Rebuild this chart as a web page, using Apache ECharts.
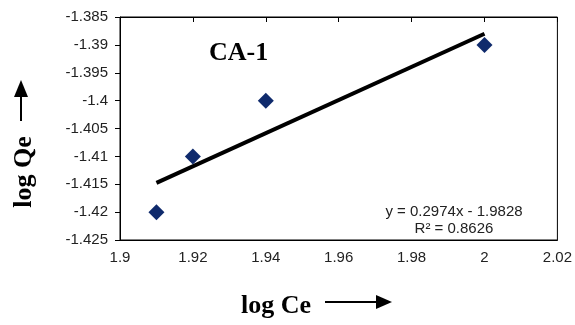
<!DOCTYPE html>
<html><head><meta charset="utf-8">
<script src="https://cdn.jsdelivr.net/npm/echarts@6/dist/echarts.min.js"></script>
<style>html,body{margin:0;padding:0;background:#fff}#c{width:575px;height:325px}</style>
</head><body><div id="c"></div>
<script>
const logCe = [1.91, 1.92, 1.94, 2.0];
const logQe = [-1.42, -1.41, -1.40, -1.39];
const slope = 0.2974, intercept = -1.9828;
const trendX = [1.91, 2.0];
const eqText = 'y = 0.2974x - 1.9828';
const r2Text = 'R² = 0.8626';
const seriesLabel = 'CA-1';

const pts = logCe.map((x, i) => [x, logQe[i]]);
const trend = trendX.map(x => [x, slope * x + intercept]);

const chart = echarts.init(document.getElementById('c'));
chart.setOption({
  animation: false,
  grid: {left: 120, top: 17, right: 17, bottom: 85, show: true, borderColor: '#000', borderWidth: 1},
  xAxis: [{
    type: 'value', min: 1.9, max: 2.02, interval: 0.02, position: 'bottom',
    axisLine: {show: true, lineStyle: {color: '#000'}}, axisTick: {show: false},
    splitLine: {show: false},
    axisLabel: {color: '#222', fontFamily: 'Liberation Sans, Arial', fontSize: 15, margin: 10}
  }, {
    type: 'value', min: 1.9, max: 2.02, interval: 0.02, position: 'top',
    axisLine: {show: true, lineStyle: {color: '#000'}},
    axisTick: {show: true, inside: true, length: 5, lineStyle: {color: '#000'}},
    splitLine: {show: false}, axisLabel: {show: false}
  }],
  yAxis: {
    type: 'value', min: -1.425, max: -1.385, interval: 0.005,
    axisLine: {show: true, lineStyle: {color: '#000'}},
    axisTick: {show: true, length: 5, lineStyle: {color: '#000'}},
    splitLine: {show: false},
    axisLabel: {color: '#222', fontFamily: 'Liberation Sans, Arial', fontSize: 15, margin: 12}
  },
  series: [{
    type: 'line', data: trend, symbol: 'none', lineStyle: {color: '#000', width: 4}, z: 2
  }, {
    type: 'scatter', data: pts, symbol: 'diamond', symbolSize: 16,
    itemStyle: {color: '#0f2a6c', opacity: 1}, z: 3
  }],
  graphic: [
    {type: 'text', left: 209, top: 40, style: {text: seriesLabel, font: 'bold 26px "Liberation Serif", serif', fill: '#000'}},
    {type: 'text', x: 454, y: 212, style: {text: eqText, font: '15px "Liberation Sans", Arial', fill: '#222', textAlign: 'center', textVerticalAlign: 'middle'}},
    {type: 'text', x: 454, y: 229, style: {text: r2Text, font: '15px "Liberation Sans", Arial', fill: '#222', textAlign: 'center', textVerticalAlign: 'middle'}},
    {type: 'text', x: 24, y: 172, rotation: Math.PI / 2, style: {text: 'log Qe', font: 'bold 26px "Liberation Serif", serif', fill: '#000', textAlign: 'center', textVerticalAlign: 'middle'}},
    {type: 'line', shape: {x1: 21, y1: 121, x2: 21, y2: 95}, style: {stroke: '#000', lineWidth: 2}},
    {type: 'polygon', shape: {points: [[21, 80], [14, 97], [28, 97]]}, style: {fill: '#000'}},
    {type: 'text', x: 276, y: 306, style: {text: 'log Ce', font: 'bold 26px "Liberation Serif", serif', fill: '#000', textAlign: 'center', textVerticalAlign: 'middle'}},
    {type: 'line', shape: {x1: 325, y1: 302, x2: 378, y2: 302}, style: {stroke: '#000', lineWidth: 2}},
    {type: 'polygon', shape: {points: [[392, 302], [376, 295], [376, 309]]}, style: {fill: '#000'}}
  ]
});
</script></body></html>
